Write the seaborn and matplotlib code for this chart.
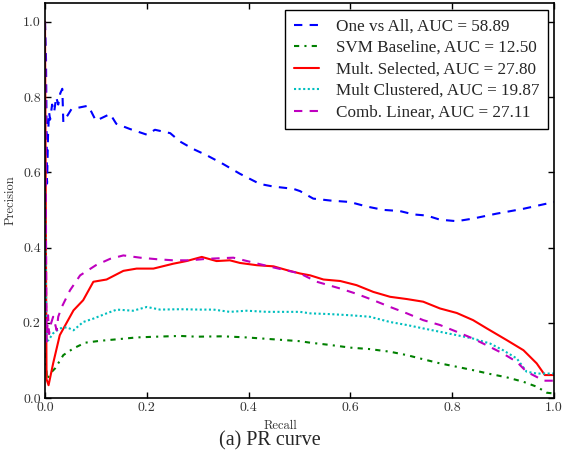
import matplotlib
matplotlib.use("Agg")
import matplotlib.pyplot as plt
import seaborn as sns
import pandas as pd

# ---- data ----
labels = ["One vs All, AUC = 58.89", "SVM Baseline, AUC = 12.50",
          "Mult. Selected, AUC = 27.80", "Mult Clustered, AUC = 19.87",
          "Comb. Linear, AUC = 27.11"]

ova_recall = [0.0, 0.002, 0.004, 0.006, 0.008, 0.010, 0.014, 0.018, 0.022, 0.026, 0.030, 0.034,
              0.036, 0.052, 0.085, 0.100, 0.128, 0.140, 0.167, 0.200, 0.216, 0.246, 0.265, 0.291,
              0.318, 0.350, 0.383, 0.422, 0.449, 0.488, 0.501, 0.527, 0.560, 0.599, 0.632, 0.665,
              0.697, 0.724, 0.750, 0.776, 0.809, 0.841, 0.887, 0.940, 1.0]
ova_prec = [1.0, 0.90, 0.57, 0.70, 0.76, 0.74, 0.78, 0.76, 0.80, 0.78, 0.81, 0.822,
            0.733, 0.768, 0.777, 0.737, 0.755, 0.729, 0.715, 0.700, 0.713, 0.704, 0.682, 0.662,
            0.645, 0.622, 0.596, 0.569, 0.562, 0.556, 0.550, 0.530, 0.525, 0.521, 0.509, 0.500,
            0.497, 0.488, 0.485, 0.474, 0.470, 0.477, 0.490, 0.503, 0.521]

svm_recall = [0.0, 0.004, 0.010, 0.020, 0.036, 0.056, 0.079, 0.108, 0.141, 0.180, 0.219, 0.265,
              0.298, 0.350, 0.396, 0.449, 0.501, 0.521, 0.560, 0.599, 0.638, 0.678, 0.711, 0.743,
              0.776, 0.809, 0.841, 0.874, 0.907, 0.940, 0.966, 0.986, 1.0]
svm_prec = [0.12, 0.05, 0.065, 0.079, 0.114, 0.132, 0.147, 0.152, 0.156, 0.161, 0.163, 0.165,
            0.163, 0.164, 0.161, 0.156, 0.151, 0.147, 0.141, 0.134, 0.130, 0.123, 0.114, 0.103,
            0.092, 0.083, 0.074, 0.064, 0.055, 0.043, 0.030, 0.014, 0.012]

sel_recall = [0.0, 0.003, 0.007, 0.016, 0.029, 0.056, 0.075, 0.095, 0.121, 0.154, 0.180, 0.213,
              0.252, 0.278, 0.308, 0.337, 0.363, 0.383, 0.416, 0.449, 0.475, 0.501, 0.521, 0.547,
              0.580, 0.612, 0.645, 0.678, 0.711, 0.743, 0.776, 0.809, 0.841, 0.868, 0.907, 0.940,
              0.966, 0.982, 1.0]
sel_prec = [1.0, 0.05, 0.034, 0.092, 0.167, 0.233, 0.260, 0.309, 0.315, 0.338, 0.344, 0.344,
            0.357, 0.364, 0.375, 0.364, 0.366, 0.359, 0.353, 0.350, 0.340, 0.331, 0.326, 0.315,
            0.311, 0.300, 0.282, 0.269, 0.263, 0.256, 0.238, 0.226, 0.207, 0.185, 0.154, 0.127,
            0.092, 0.061, 0.061]

clu_recall = [0.0, 0.003, 0.007, 0.016, 0.029, 0.043, 0.056, 0.075, 0.095, 0.121, 0.141, 0.173,
              0.200, 0.226, 0.265, 0.305, 0.331, 0.363, 0.396, 0.436, 0.475, 0.501, 0.521, 0.560,
              0.599, 0.638, 0.678, 0.711, 0.743, 0.776, 0.809, 0.841, 0.874, 0.900, 0.927, 0.946,
              0.966, 1.0]
clu_prec = [0.55, 0.15, 0.154, 0.172, 0.185, 0.188, 0.180, 0.202, 0.211, 0.225, 0.235, 0.232,
            0.242, 0.235, 0.236, 0.235, 0.235, 0.229, 0.232, 0.229, 0.229, 0.229, 0.225, 0.223,
            0.220, 0.216, 0.202, 0.194, 0.185, 0.176, 0.167, 0.158, 0.145, 0.127, 0.105, 0.070,
            0.065, 0.065]

lin_recall = [0.0, 0.003, 0.006, 0.008, 0.010, 0.016, 0.023, 0.026, 0.033, 0.049, 0.069, 0.100,
              0.128, 0.154, 0.187, 0.219, 0.252, 0.285, 0.318, 0.370, 0.403, 0.449, 0.501, 0.534,
              0.580, 0.612, 0.645, 0.678, 0.711, 0.743, 0.776, 0.809, 0.841, 0.874, 0.900, 0.927,
              0.946, 0.966, 0.979, 1.0]
lin_prec = [1.0, 0.15, 0.22, 0.17, 0.19, 0.216, 0.180, 0.216, 0.242, 0.286, 0.326, 0.353,
            0.370, 0.379, 0.373, 0.369, 0.366, 0.366, 0.370, 0.373, 0.362, 0.347, 0.331, 0.309,
            0.291, 0.277, 0.260, 0.242, 0.225, 0.207, 0.194, 0.176, 0.158, 0.136, 0.118, 0.096,
            0.070, 0.056, 0.046, 0.046]

series = [
    (labels[0], ova_recall, ova_prec, "#0000ff", (0, (4, 3.5))),
    (labels[1], svm_recall, svm_prec, "#008000", (0, (2.5, 2.5, 1, 2.5))),
    (labels[2], sel_recall, sel_prec, "#ff0000", "-"),
    (labels[3], clu_recall, clu_prec, "#00bfbf", (0, (1, 1.2))),
    (labels[4], lin_recall, lin_prec, "#bf00bf", (0, (4, 3.5))),
]

sns.set_style("ticks")
plt.rcParams["font.family"] = ["Liberation Serif", "DejaVu Serif"]
plt.rcParams["axes.formatter.use_mathtext"] = True

fig = plt.figure(figsize=(5.63, 4.68), dpi=100)
ax = fig.add_axes([45 / 563, 1 - 398 / 468, 509 / 563, 395 / 468])

for name, xs, ys, col, ls in series:
    df = pd.DataFrame({"Recall": xs, "Precision": ys})
    sns.lineplot(data=df, x="Recall", y="Precision", ax=ax, color=col,
                 linestyle=ls, linewidth=1.5, sort=False, estimator=None,
                 label=name)

ax.set_xlim(0, 1.0)
ax.set_ylim(0, 1.05)
ticks = [0.0, 0.2, 0.4, 0.6, 0.8, 1.0]
tick_labels = ["0.0", "0.2", "0.4", "0.6", "0.8", "1.0"]
ax.set_xticks(ticks)
ax.set_yticks(ticks)
ax.set_xticklabels(tick_labels)
ax.set_yticklabels(tick_labels)
ax.tick_params(direction="in", top=True, right=True, length=4, width=1,
               colors="black", pad=3)
for lab in ax.get_xticklabels() + ax.get_yticklabels():
    lab.set_fontfamily("cmr10")
    lab.set_fontsize(10)
    lab.set_color("#333333")
for sp in ax.spines.values():
    sp.set_linewidth(1.2)
    sp.set_color("black")

ax.set_xlabel("Recall", fontfamily="cmr10", fontsize=9, color="#333333")
ax.set_ylabel("Precision", fontfamily="cmr10", fontsize=9, color="#333333")
ax.xaxis.set_label_coords(0.462, -0.055)
ax.yaxis.set_label_coords(-0.055, 0.5)

leg = ax.legend(loc="upper right", fontsize=12.3, frameon=True, fancybox=False,
                edgecolor="black", framealpha=1, handlelength=1.46,
                borderpad=0.5, labelspacing=0.32, handletextpad=1.0,
                borderaxespad=0, bbox_to_anchor=(0.988, 0.982))
leg.get_frame().set_linewidth(1.0)

fig.text(270 / 563, 1 - 441 / 468, "(a) PR curve", ha="center", va="center",
         fontsize=14.5)

fig.savefig("out.png", dpi=100)
